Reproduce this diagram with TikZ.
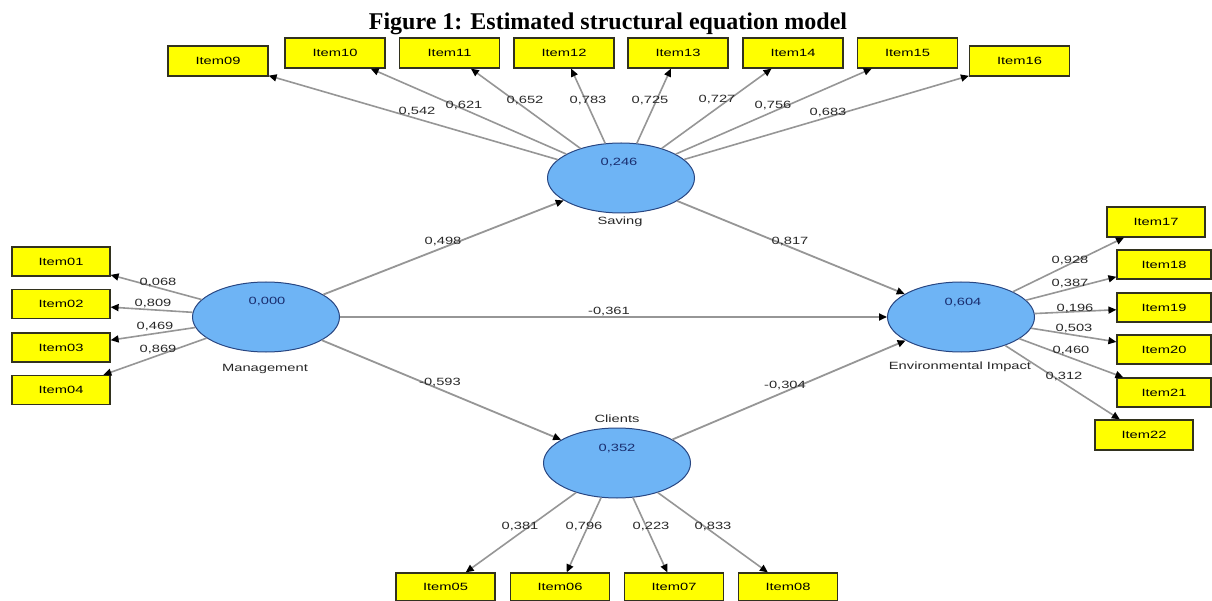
\documentclass[tikz,border=0pt]{standalone}
\usepackage{fontspec}
\usepackage{graphicx}
\usetikzlibrary{shapes.geometric,arrows.meta,calc}
\newfontfamily\titlefont{Liberation Serif}
\newfontfamily\widesans[FakeStretch=1.4]{Liberation Sans}
\definecolor{lvfill}{RGB}{110,180,245}
\definecolor{lvborder}{RGB}{40,70,130}
\definecolor{valtxt}{RGB}{25,45,110}
\definecolor{itemfill}{RGB}{255,255,0}
\definecolor{itemborder}{RGB}{50,50,30}
\definecolor{pathgray}{RGB}{150,150,150}
\definecolor{lbltxt}{RGB}{40,40,40}
\begin{document}
\begin{tikzpicture}[x=1pt,y=-1pt,
  itembox/.style={rectangle, draw=itemborder, fill=itemfill, line width=1.2pt,
    minimum width=100pt, minimum height=30pt, inner sep=0pt,
    font=\widesans\fontsize{10.5}{12}\selectfont, text=black},
  lvnode/.style={ellipse, draw=lvborder, fill=lvfill, line width=1pt,
    minimum width=147pt, minimum height=70pt, inner sep=0pt},
  lvval/.style={font=\widesans\fontsize{10.5}{12}\selectfont, text=valtxt, inner sep=0pt},
  lvname/.style={font=\widesans\fontsize{10.5}{12}\selectfont, text=lbltxt, inner sep=0pt},
  coeflbl/.style={font=\widesans\fontsize{10.5}{12}\selectfont, text=lbltxt, inner sep=0pt},
  pathlink/.style={draw=pathgray, line width=1.6pt, -{Triangle[length=8pt,width=7pt,color=black]}},
]
\fill[white] (0,0) rectangle (1212,601);
\useasboundingbox (0,0) rectangle (1212,601);

% title
\node[anchor=base, inner sep=0pt, font=\titlefont\bfseries\fontsize{24}{28}\selectfont] (title) at (608,30) {Figure 1: Estimated structural equation model};

% latent variables
\node[lvnode] (sav) at (621,178) {};
\node[lvnode] (mgmt) at (266,317) {};
\node[lvnode] (env) at (961,317) {};
\node[lvnode] (cli) at (617,463) {};

\node[lvval] (savv) at (619,163) {0,246};
\node[lvval] (mgmtv) at (267,302) {0,000};
\node[lvval] (envv) at (963,303) {0,604};
\node[lvval] (cliv) at (617,449) {0,352};

\node[lvname] (savn) at (620,222) {Saving};
\node[lvname] (mgmtn) at (265,369) {Management};
\node[lvname] (envn) at (960,367) {Environmental Impact};
\node[lvname] (clin) at (617,419) {Clients};

% top items
\node[itembox] (i09) at (218,61) {Item09};
\node[itembox] (i10) at (335,53) {Item10};
\node[itembox] (i11) at (449.5,53) {Item11};
\node[itembox] (i12) at (564,53) {Item12};
\node[itembox] (i13) at (678,53) {Item13};
\node[itembox] (i14) at (793,53) {Item14};
\node[itembox] (i15) at (907.5,53) {Item15};
\node[itembox] (i16) at (1019.5,61) {Item16};

% left items
\node[itembox, minimum width=98pt, minimum height=29pt] (i01) at (61,261.5) {Item01};
\node[itembox, minimum width=98pt, minimum height=29pt] (i02) at (61,304) {Item02};
\node[itembox, minimum width=98pt, minimum height=29pt] (i03) at (61,347.5) {Item03};
\node[itembox, minimum width=98pt, minimum height=29pt] (i04) at (61,390) {Item04};

% right items
\node[itembox, minimum width=98pt] (i17) at (1156,222) {Item17};
\node[itembox, minimum width=94pt, minimum height=29pt] (i18) at (1164,264.5) {Item18};
\node[itembox, minimum width=94pt, minimum height=29pt] (i19) at (1164,307.5) {Item19};
\node[itembox, minimum width=94pt, minimum height=29pt] (i20) at (1164,349.5) {Item20};
\node[itembox, minimum width=94pt, minimum height=29pt] (i21) at (1164,392.5) {Item21};
\node[itembox, minimum width=98pt] (i22) at (1144,435) {Item22};

% bottom items
\node[itembox, minimum width=99pt, minimum height=28pt] (i05) at (445.5,587) {Item05};
\node[itembox, minimum width=99pt, minimum height=28pt] (i06) at (560,587) {Item06};
\node[itembox, minimum width=99pt, minimum height=28pt] (i07) at (674,587) {Item07};
\node[itembox, minimum width=99pt, minimum height=28pt] (i08) at (788,587) {Item08};

% loadings
\foreach \t in {i09,i10,i11,i12,i13,i14,i15,i16} \draw[pathlink] (sav) -- (\t);
\foreach \t in {i01,i02,i03,i04} \draw[pathlink] (mgmt) -- (\t);
\foreach \t in {i17,i18,i19,i20,i21,i22} \draw[pathlink] (env) -- (\t);
\foreach \t in {i05,i06,i07,i08} \draw[pathlink] (cli) -- (\t);

% structural paths
\draw[pathlink, line width=1.8pt] (mgmt) -- (sav);
\draw[pathlink, line width=1.8pt] (sav) -- (env);
\draw[pathlink, line width=1.8pt] (mgmt) -- (env);
\draw[pathlink, line width=1.8pt] (mgmt) -- (cli);
\draw[pathlink, line width=1.8pt] (cli) -- (env);

% loading labels
\node[coeflbl] (l09) at (417,112) {0,542};
\node[coeflbl] (l10) at (464,106) {0,621};
\node[coeflbl] (l11) at (525,101) {0,652};
\node[coeflbl] (l12) at (588,101) {0,783};
\node[coeflbl] (l13) at (650,101) {0,725};
\node[coeflbl] (l14) at (717,100) {0,727};
\node[coeflbl] (l15) at (773,106) {0,756};
\node[coeflbl] (l16) at (828,113) {0,683};

\node[coeflbl] (l01) at (158,283) {0,068};
\node[coeflbl] (l02) at (153,304) {0,809};
\node[coeflbl] (l03) at (155,327) {0,469};
\node[coeflbl] (l04) at (158,350) {0,869};

\node[coeflbl] (l17) at (1070,261) {0,928};
\node[coeflbl] (l18) at (1070,284) {0,387};
\node[coeflbl] (l19) at (1075,309) {0,196};
\node[coeflbl] (l20) at (1074,329) {0,503};
\node[coeflbl] (l21) at (1071,351) {0,460};
\node[coeflbl] (l22) at (1064,377) {0,312};

\node[coeflbl] (l05) at (520,527) {0,381};
\node[coeflbl] (l06) at (584,527) {0,796};
\node[coeflbl] (l07) at (651,527) {0,223};
\node[coeflbl] (l08) at (713,527) {0,833};

% path coefficients
\node[coeflbl] (p1) at (443,242) {0,498};
\node[coeflbl] (p2) at (790,242) {0,817};
\node[coeflbl] (p3) at (609,312) {-0,361};
\node[coeflbl] (p4) at (440,383) {-0,593};
\node[coeflbl] (p5) at (785,386) {-0,304};
\end{tikzpicture}
\end{document}
